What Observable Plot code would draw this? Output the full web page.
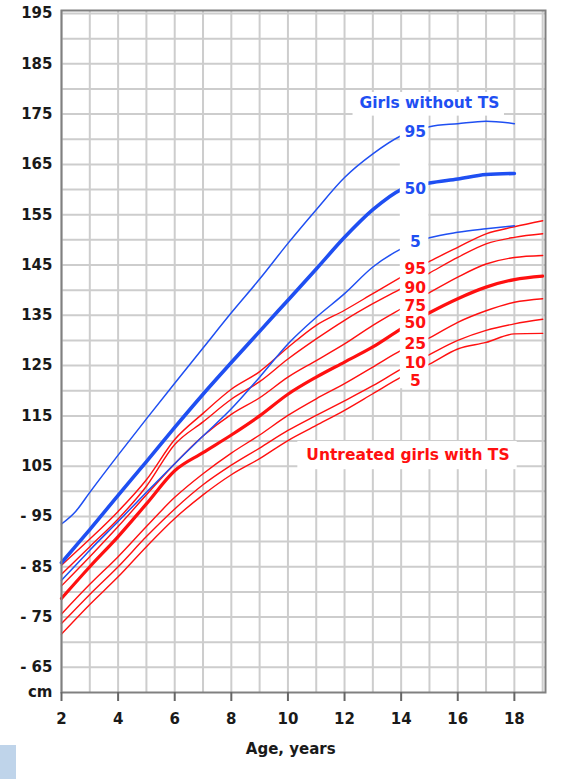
<!DOCTYPE html>
<html>
<head>
<meta charset="utf-8">
<script src="https://cdn.jsdelivr.net/npm/d3@7"></script>
<script src="https://cdn.jsdelivr.net/npm/@observablehq/plot@0.6"></script>
<style>
  html, body { margin: 0; padding: 0; background: #fff; }
  #wrap { position: relative; width: 564px; height: 779px; }
  #corner { position: absolute; left: 0; top: 745px; width: 16px; height: 34px; background: #bfd4ea; }
</style>
</head>
<body>
<div id="wrap"><div id="chart"></div><div id="corner"></div></div>
<script>
// Untreated girls with Turner syndrome (percentiles), height in cm by age
const tsAges = [2, 3, 4, 5, 6, 7, 8, 9, 10, 11, 12, 13, 14, 15, 16, 17, 18, 19];
const ts95 = [85.3, 90.5, 96, 102.3, 110.3, 115.5, 120.3, 123.8, 128.6, 133, 136, 139.3, 142.6, 145.7, 148.5, 151.2, 152.6, 153.8];
const ts90 = [83.5, 89, 94.5, 101, 109.3, 113.8, 118.3, 121.8, 126.3, 130.3, 134, 137.3, 140.3, 143.4, 146.5, 149.2, 150.5, 151.2];
const ts75 = [81.2, 87, 93, 99.3, 105.5, 111, 115.3, 118.6, 122.7, 126, 129.3, 133, 136.3, 139.5, 142.6, 145.2, 146.5, 146.9];
const ts50 = [78.7, 85, 91, 97.5, 104.1, 107.7, 111.2, 115, 119.3, 122.7, 125.7, 128.7, 132.3, 135.5, 138.3, 140.6, 142.1, 142.8];
const ts25 = [75.6, 81.5, 87, 93, 98.8, 103.5, 107.6, 111.2, 115.1, 118.4, 121.4, 124.7, 128, 130.5, 133.6, 135.9, 137.6, 138.3];
const ts10 = [73.7, 79.5, 85, 91, 96.5, 101.3, 105.2, 108.6, 112.1, 115.1, 118, 121, 124.3, 127.2, 130, 132, 133.3, 134.2];
const ts5  = [71.6, 77.5, 83, 89, 94.6, 99.3, 103.3, 106.5, 110.1, 113.1, 116.1, 119.4, 122.7, 125.3, 128.3, 129.6, 131.3, 131.4];

// Girls without TS (percentiles)
const refAges = [2, 2.5, 3, 4, 5, 6, 7, 8, 9, 10, 11, 12, 13, 14, 15, 16, 17, 18];
const ref95 = [93.5, 96, 99.8, 107.2, 114.4, 121.5, 128.5, 135.5, 142.2, 149.3, 156, 162.4, 167.1, 170.7, 172.5, 173.1, 173.6, 173.1];
const ref50 = [85.8, 89.1, 92.4, 99.2, 105.9, 112.7, 119.3, 125.6, 131.8, 138, 144.2, 150.5, 156, 160, 161.3, 162.1, 163, 163.2];
const ref5  = [82.3, 85.3, 88.3, 94, 99.8, 105.5, 111, 116.4, 122.7, 129.3, 134.6, 139.3, 144.6, 148.2, 150.4, 151.5, 152.2, 152.8];

// Axis ticks and labels
const xTicks = [2, 4, 6, 8, 10, 12, 14, 16, 18];
const yTicks = [60, 65, 75, 85, 95, 105, 115, 125, 135, 145, 155, 165, 175, 185, 195];
const yTickLabels = ["cm", "- 65", "- 75", "- 85", "- 95", "105", "115", "125", "135", "145", "155", "165", "175", "185", "195"];

// Percentile labels
const refLabels = ["95", "50", "5"];
const tsLabels = ["95", "90", "75", "50", "25", "10", "5"];

// ---- layout (annotation placement) ----
const labelAge = 14.5;
const refLabelH = [171.4, 160.1, 149.5];
const tsLabelH = [144.1, 140.5, 136.9, 133.4, 129.3, 125.5, 121.9];
const whiteBoxes = [
  {x1: 12.3, x2: 17.65, y1: 174.6, y2: 179.3},
  {x1: 13.97, x2: 14.98, y1: 120.4, y2: 174.8},
  {x1: 10.35, x2: 18.1, y1: 104.3, y2: 109.9}
];

const BLUE = "#1f4ff2";
const RED = "#ff1010";

const series = (ages, vals) => ages.map((a, i) => ({age: a, h: vals[i]}));

const tsLine = (vals, w) => Plot.line(series(tsAges, vals), {x: "age", y: "h", stroke: RED, strokeWidth: w, curve: "monotone-x"});
const refLine = (vals, w) => Plot.line(series(refAges, vals), {x: "age", y: "h", stroke: BLUE, strokeWidth: w, curve: "monotone-x"});

const chart = Plot.plot({
  width: 564,
  height: 779,
  marginLeft: 61,
  marginRight: 19,
  marginTop: 10,
  marginBottom: 87,
  x: {domain: [2, 19.1]},
  y: {domain: [60, 195.6]},
  style: {fontFamily: "'DejaVu Sans', Verdana, sans-serif", fontWeight: "bold", fontSize: "15px", color: "#1a1a1a", background: "#fff"},
  marks: [
    Plot.gridX(d3.range(2, 20), {stroke: "#cdcdcd", strokeOpacity: 1, strokeWidth: 2}),
    Plot.gridY(d3.range(65, 196, 5), {stroke: "#cdcdcd", strokeOpacity: 1, strokeWidth: 2}),
    tsLine(ts5, 1.4), tsLine(ts10, 1.4), tsLine(ts25, 1.4), tsLine(ts50, 3.2),
    tsLine(ts75, 1.4), tsLine(ts90, 1.4), tsLine(ts95, 1.4),
    refLine(ref5, 1.5), refLine(ref50, 3.6), refLine(ref95, 1.5),
    Plot.rect(whiteBoxes, {x1: "x1", x2: "x2", y1: "y1", y2: "y2", fill: "#fff"}),
    Plot.text(refLabels, {x: () => labelAge, y: (d, i) => refLabelH[i], text: d => d, fill: BLUE, fontSize: 15.5, fontWeight: "bold"}),
    Plot.text(tsLabels, {x: () => labelAge, y: (d, i) => tsLabelH[i], text: d => d, fill: RED, fontSize: 15.5, fontWeight: "bold"}),
    Plot.text(["Girls without TS"], {x: 15.0, y: 177.2, text: d => d, fill: BLUE, fontSize: 15.5, fontWeight: "bold"}),
    Plot.text(["Untreated girls with TS"], {x: 14.24, y: 107.25, text: d => d, fill: RED, fontSize: 15.5, fontWeight: "bold"}),
    Plot.frame({stroke: "#808080", strokeWidth: 2}),
    Plot.axisY({ticks: yTicks, tickFormat: d => yTickLabels[yTicks.indexOf(d)], tickSize: 0, tickPadding: 9, label: null, fill: "#1a1a1a"}),
    Plot.axisX({ticks: xTicks, tickFormat: d => String(d), tickSize: 9, tickPadding: 12, label: null, stroke: "#666", strokeWidth: 2}),
    Plot.text(["Age, years"], {x: 10.1, frameAnchor: "bottom", dy: 61, text: d => d, fontSize: 15, fontWeight: "bold", fill: "#1a1a1a"})
  ]
});
document.getElementById("chart").appendChild(chart);
</script>
</body>
</html>
